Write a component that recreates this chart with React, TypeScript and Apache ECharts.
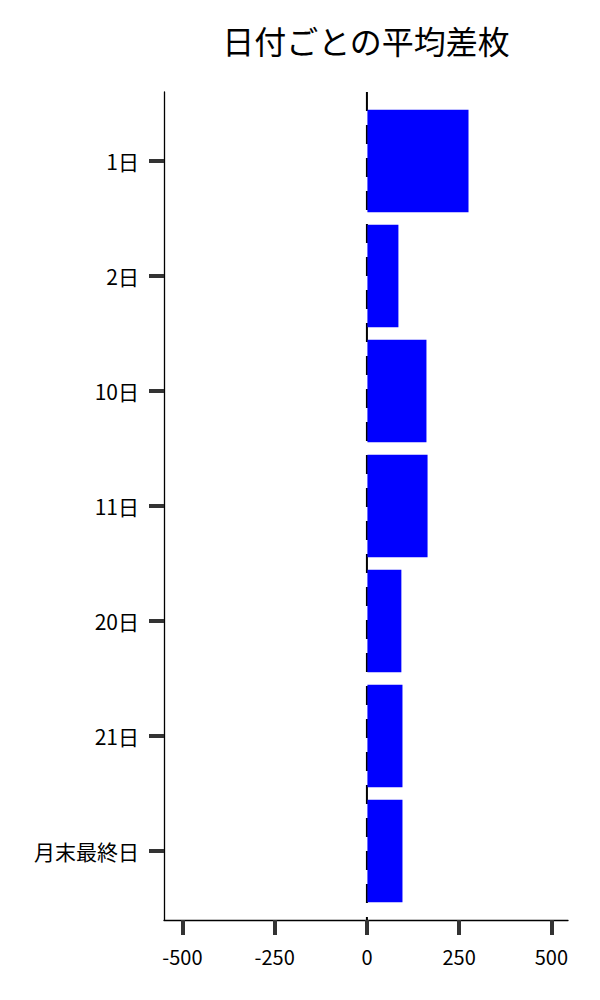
import { useEffect, useRef } from "react";
import * as echarts from "echarts";

// ─── Data ─────────────────────────────────────────────
const CATEGORIES = ["1日", "2日", "10日", "11日", "20日", "21日", "月末最終日"];
const AVG_DIFF = [274, 84, 160, 163, 92, 95, 95];
const X_TICKS = [-500, -250, 0, 250, 500];
const X_MIN = -550;
const X_MAX = 545;

const FONT = "'Noto Sans CJK JP', 'Noto Sans', sans-serif";
const BAR_COLOR = "#0000ff";

export default function App() {
  const ref = useRef<HTMLDivElement>(null);

  useEffect(() => {
    if (!ref.current) return;
    const chart = echarts.init(ref.current, undefined, { renderer: "svg" });

    const barData = AVG_DIFF.map((v, i) => [v, i]);
    const yIdx = CATEGORIES.map((_, i) => i);

    chart.setOption({
      animation: false,
      backgroundColor: "#ffffff",
      title: {
        text: "日付ごとの平均差枚",
        left: 361,
        top: 19,
        textAlign: "center",
        textStyle: {
          fontFamily: FONT,
          fontSize: 32,
          fontWeight: "normal",
          color: "#000",
        },
      },
      grid: { left: 164, right: 32, top: 92, bottom: 80, containLabel: false },
      xAxis: {
        type: "value",
        min: X_MIN,
        max: X_MAX,
        axisLine: { show: true, onZero: false, lineStyle: { color: "#000", width: 1.3 } },
        axisTick: {
          show: true,
          customValues: X_TICKS,
          length: 15,
          lineStyle: { color: "#333", width: 4 },
        },
        axisLabel: {
          customValues: X_TICKS,
          margin: 26,
          fontFamily: FONT,
          fontSize: 20,
          color: "#000",
        },
        splitLine: { show: false },
      },
      yAxis: {
        type: "value",
        inverse: true,
        min: -0.6,
        max: 6.6,
        axisLine: { show: true, onZero: false, lineStyle: { color: "#000", width: 1.3 } },
        axisTick: {
          show: true,
          customValues: yIdx,
          length: 15,
          lineStyle: { color: "#333", width: 4 },
        },
        axisLabel: {
          customValues: yIdx,
          margin: 25,
          fontFamily: FONT,
          fontSize: 21,
          color: "#000",
          formatter: (v: number) => CATEGORIES[Math.round(v)] ?? "",
        },
        splitLine: { show: false },
      },
      series: [
        {
          type: "line",
          data: [
            [0, -0.6],
            [0, 6.6],
          ],
          symbol: "none",
          z: 1,
          lineStyle: { color: "#000", width: 2, type: [19, 14] },
        },
        {
          type: "custom",
          z: 2,
          encode: { x: 0, y: 1 },
          data: barData,
          renderItem: (params: any, api: any) => {
            const v = api.value(0);
            const idx = api.value(1);
            const start = api.coord([0, idx]);
            const end = api.coord([v, idx]);
            const h = api.size([0, 0.89])[1];
            return {
              type: "rect",
              shape: {
                x: start[0] + 0.5,
                y: start[1] - h / 2,
                width: end[0] - start[0],
                height: h,
              },
              style: { fill: BAR_COLOR },
            };
          },
        },
      ],
    });

    return () => chart.dispose();
  }, []);

  return (
    <div
      ref={ref}
      style={{ position: "fixed", left: 0, top: 0, width: 600, height: 1000 }}
    />
  );
}
